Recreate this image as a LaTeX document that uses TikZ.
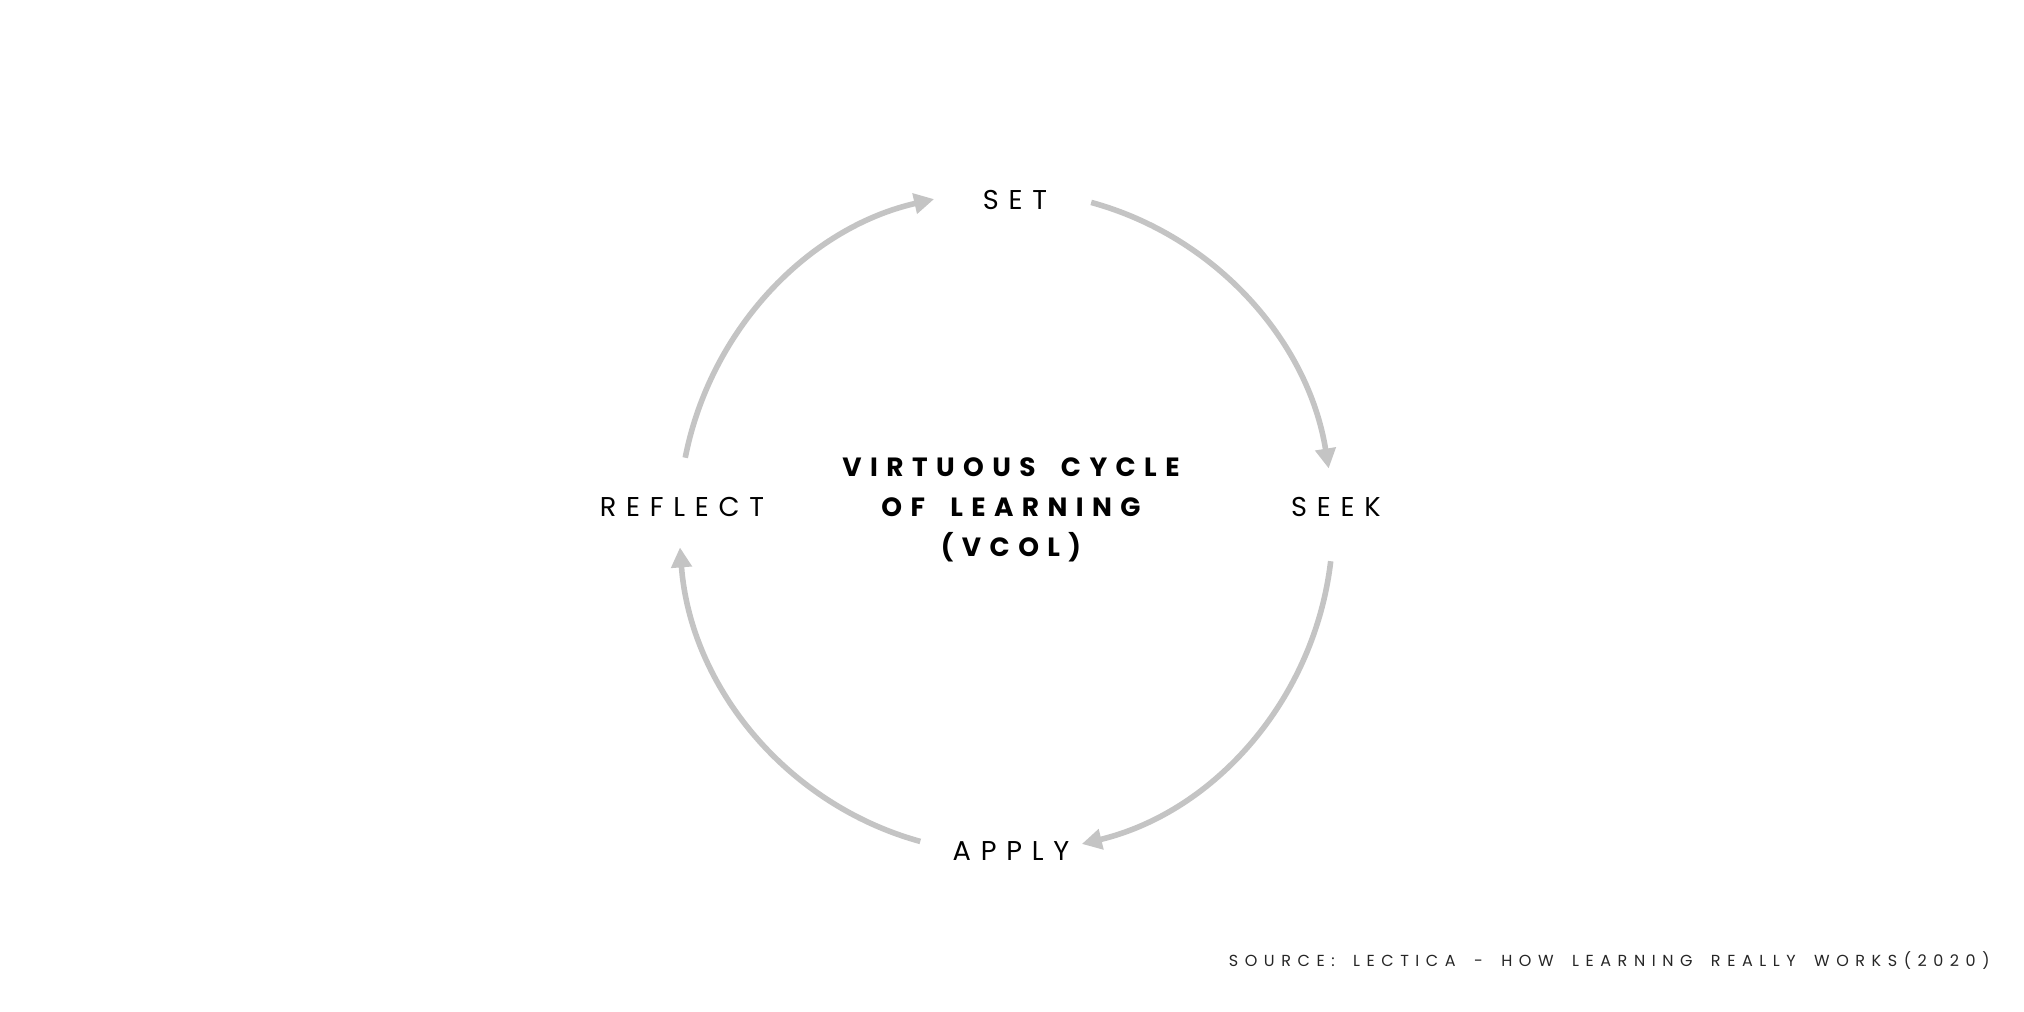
\documentclass[tikz,border=0pt]{standalone}
\usepackage{fontspec}
\setmainfont{Poppins}
\newfontfamily\lblfont[LetterSpace=36]{Poppins}
\newfontfamily\ttlfont[LetterSpace=32,WordSpace=1.8]{Poppins}
\newfontfamily\srcfont[LetterSpace=41,WordSpace=1.7]{Poppins}
\usetikzlibrary{arrows.meta}
\definecolor{cycgray}{RGB}{196,196,196}
\tikzset{
  cyc/.style={draw=cycgray, line width=2.8pt, -{Triangle[length=10pt,width=10pt]}},
  lbl/.style={inner sep=0pt, font=\lblfont\fontsize{13.6}{16}\selectfont, text=black},
  ttl/.style={inner sep=0pt, align=center, font=\ttlfont\bfseries\fontsize{13.2}{20}\selectfont, text=black},
  src/.style={inner sep=0pt, anchor=east, font=\srcfont\fontsize{8}{10}\selectfont, text=black!85}
}
\begin{document}
\begin{tikzpicture}[x=0.5pt, y=-0.5pt]
\useasboundingbox (0,0) rectangle (2024,1012);
\coordinate (c) at (1006,522);
\node[lbl] (set) at (1015,200) {SET};
\node[lbl] (seek) at (1336,507) {SEEK};
\node[lbl] (apply) at (1011,851) {APPLY};
\node[lbl] (reflect) at (682,507) {REFLECT};
\node[ttl] (title) at (1011,510) {VIRTUOUS CYCLE\\OF LEARNING\\(VCOL)};
\node[src] (source) at (1990,961) {SOURCE: LECTICA - HOW LEARNING REALLY WORKS(2020)};
\path (c) ++(-168.8:327 and 331) coordinate (a1);
\path (c) ++(-74.9:327 and 331) coordinate (a2);
\path (c) ++(6.8:327 and 331) coordinate (a3);
\path (c) ++(105.2:327 and 331) coordinate (a4);
\draw[cyc] (a1) arc[start angle=-168.8, end angle=-102.7, x radius=327, y radius=331];
\draw[cyc] (a2) arc[start angle=-74.9, end angle=-9.3, x radius=327, y radius=331];
\draw[cyc] (a3) arc[start angle=6.8, end angle=76.6, x radius=327, y radius=331];
\draw[cyc] (a4) arc[start angle=105.2, end angle=175.6, x radius=327, y radius=331];
\end{tikzpicture}
\end{document}
